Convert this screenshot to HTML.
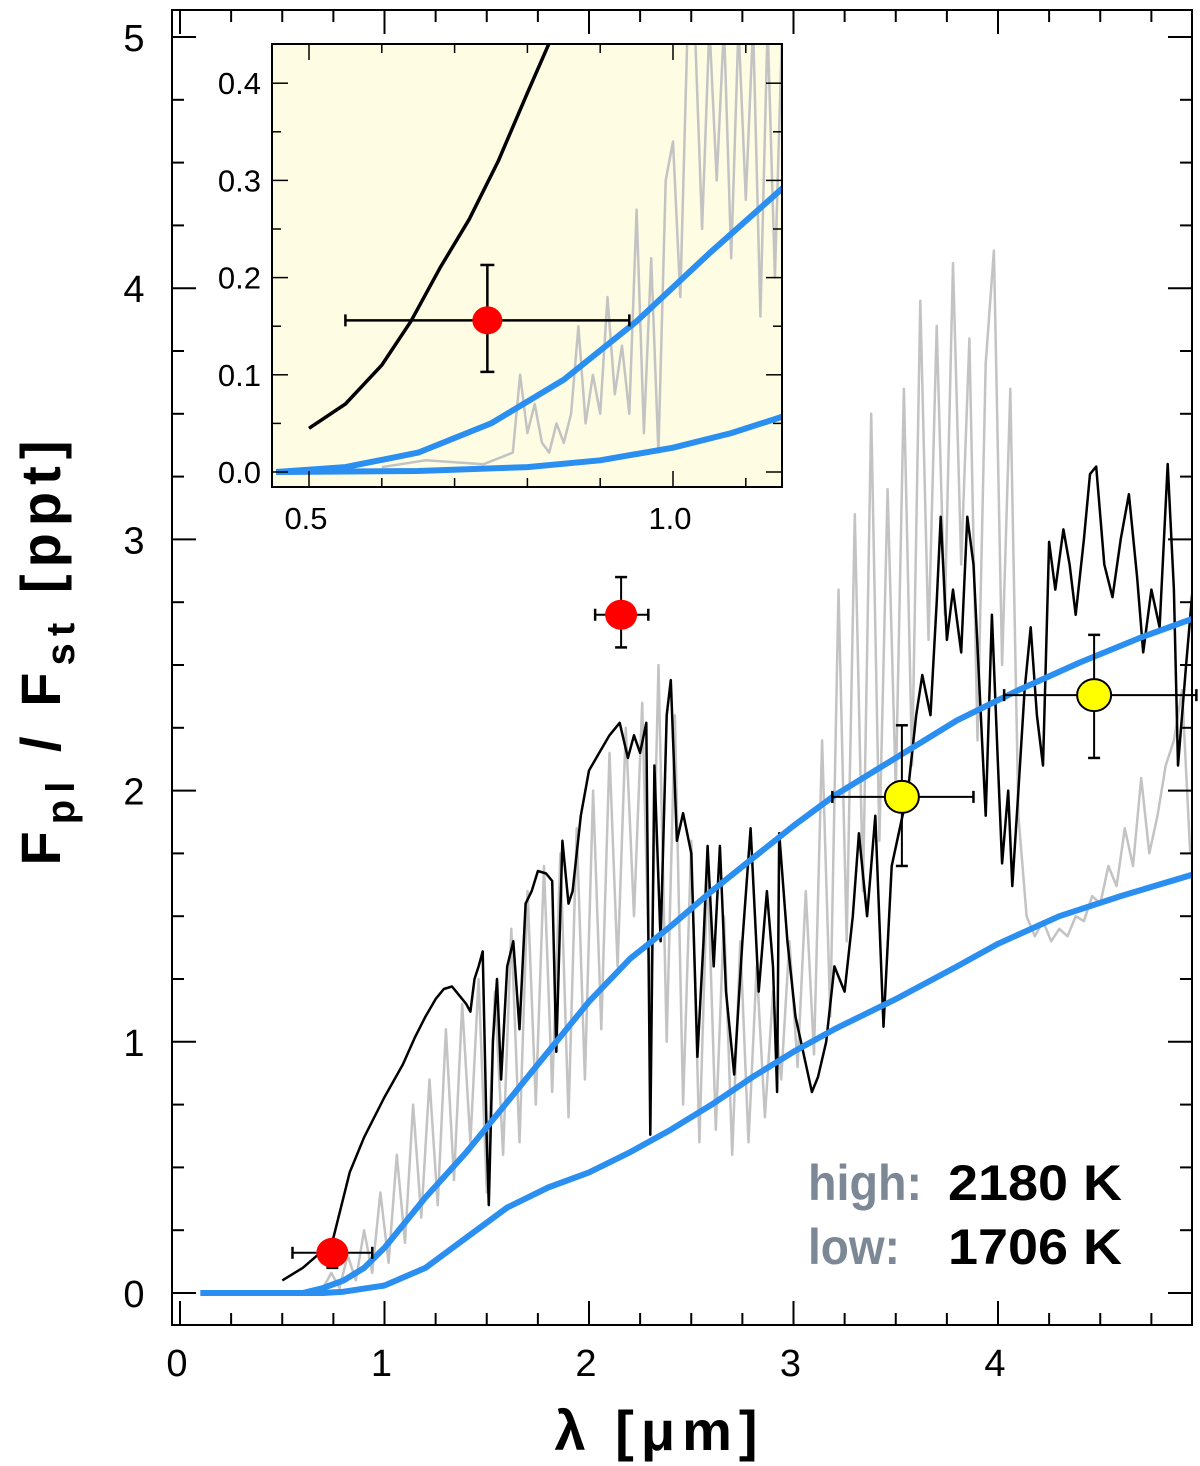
<!DOCTYPE html>
<html><head><meta charset="utf-8"><style>
html,body{margin:0;padding:0;background:#fff;}
svg{display:block;font-family:"Liberation Sans",Arial,sans-serif;}
</style></head><body>
<svg id="chart" width="1200" height="1466" viewBox="0 0 1200 1466">
<defs>
<clipPath id="mainClip"><rect x="172" y="10" width="1020" height="1315"/></clipPath>
<clipPath id="insetClip"><rect x="272" y="44" width="510" height="443"/></clipPath>
</defs>
<g id="main"></g>
<g id="inset"></g>
<text x="60" y="653" transform="rotate(-90 60 653)" text-anchor="middle" font-size="56" font-weight="bold" textLength="425" lengthAdjust="spacing">F<tspan font-size="40" dy="14">pl</tspan><tspan dy="-14"> / F</tspan><tspan font-size="40" dy="14">st</tspan><tspan dy="-14"> [ppt]</tspan></text>
<text x="656" y="1450" text-anchor="middle" font-size="56" font-weight="bold" textLength="203" lengthAdjust="spacing">λ [μm]</text>
<g>
<text x="808" y="1200" font-size="50" font-weight="bold" fill="#7d8896" textLength="114" lengthAdjust="spacingAndGlyphs">high:</text>
<text x="948" y="1200" font-size="50" font-weight="bold" fill="#000" textLength="174" lengthAdjust="spacingAndGlyphs">2180 K</text>
<text x="808" y="1264" font-size="50" font-weight="bold" fill="#7d8896" textLength="92" lengthAdjust="spacingAndGlyphs">low:</text>
<text x="948" y="1264" font-size="50" font-weight="bold" fill="#000" textLength="174" lengthAdjust="spacingAndGlyphs">1706 K</text>
</g>
</svg>
<script>
// ---- main chart data ----
const mainXTicks = [0,1,2,3,4];
const mainYTicks = [0,1,2,3,4,5];
const highX = [0.1,0.6,0.7,0.8,0.9,1.0,1.2,1.4,1.6,1.8,2.0,2.2,2.4,2.6,2.8,3.0,3.2,3.5,3.8,4.1,4.4,4.7,4.97];
const highY = [0,0,0.02,0.05,0.1,0.18,0.38,0.56,0.76,0.96,1.16,1.33,1.46,1.60,1.73,1.86,1.98,2.13,2.28,2.40,2.51,2.61,2.69];
const lowX = [0.1,0.7,0.8,1.0,1.2,1.4,1.6,1.8,2.0,2.2,2.4,2.6,2.8,3.0,3.2,3.5,3.8,4.0,4.3,4.6,4.97];
const lowY = [0,0,0.005,0.03,0.10,0.22,0.34,0.42,0.48,0.56,0.65,0.75,0.86,0.96,1.05,1.17,1.30,1.39,1.50,1.58,1.67];
const grayX = [0.70,0.74,0.78,0.82,0.86,0.90,0.94,0.98,1.02,1.06,1.10,1.14,1.18,1.22,1.26,1.30,1.34,1.38,1.42,1.46,1.50,1.54,1.58,1.62,1.66,1.70,1.74,1.78,1.82,1.86,1.90,1.94,1.98,2.02,2.06,2.10,2.14,2.18,2.22,2.26,2.30,2.34,2.38,2.42,2.46,2.50,2.54,2.58,2.62,2.66,2.70,2.74,2.78,2.82,2.86,2.90,2.94,2.98,3.02,3.06,3.10,3.14,3.18,3.22,3.26,3.30,3.34,3.38,3.42,3.46,3.50,3.54,3.58,3.62,3.66,3.70,3.74,3.78,3.82,3.86,3.90,3.94,3.98,4.02,4.06,4.10,4.14,4.18,4.22,4.26,4.30,4.34,4.38,4.42,4.46,4.50,4.54,4.58,4.62,4.66,4.70,4.74,4.78,4.82,4.86,4.90,4.94];
const grayY = [0.02,0.08,0.02,0.15,0.05,0.25,0.08,0.40,0.12,0.55,0.20,0.75,0.30,0.85,0.35,1.05,0.45,1.15,0.60,1.25,0.40,1.20,0.55,1.45,0.60,1.60,0.75,1.70,0.80,1.75,0.70,1.85,0.85,2.00,1.05,2.15,1.30,2.25,1.50,2.35,1.10,2.50,1.00,2.30,0.75,1.80,0.60,1.70,0.65,1.50,0.55,1.40,0.60,1.30,0.70,1.20,0.85,1.40,0.90,1.60,0.95,2.20,1.10,2.80,1.40,3.10,1.60,3.50,1.80,3.20,2.00,3.60,2.10,3.95,2.60,3.85,2.70,4.10,2.90,3.80,2.20,3.70,4.15,2.50,3.60,1.90,1.50,1.42,1.48,1.40,1.45,1.42,1.50,1.48,1.58,1.55,1.70,1.62,1.85,1.70,2.05,1.75,1.90,2.10,2.20,2.40,1.75];
const blackX = [0.50,0.60,0.70,0.75,0.83,0.90,1.00,1.09,1.15,1.20,1.25,1.29,1.33,1.37,1.40,1.42,1.44,1.46,1.48,1.50,1.51,1.53,1.55,1.57,1.60,1.63,1.66,1.69,1.72,1.75,1.79,1.82,1.84,1.87,1.90,1.92,1.96,2.00,2.05,2.10,2.15,2.19,2.22,2.25,2.28,2.30,2.32,2.35,2.38,2.40,2.43,2.46,2.50,2.53,2.56,2.58,2.61,2.64,2.67,2.71,2.75,2.79,2.83,2.87,2.90,2.92,2.93,2.97,3.01,3.05,3.09,3.12,3.16,3.20,3.25,3.29,3.32,3.36,3.40,3.44,3.48,3.52,3.56,3.60,3.63,3.67,3.70,3.72,3.75,3.78,3.82,3.85,3.88,3.91,3.94,3.97,4.00,4.02,4.05,4.07,4.10,4.13,4.16,4.19,4.22,4.25,4.28,4.32,4.35,4.38,4.42,4.45,4.48,4.52,4.56,4.60,4.64,4.68,4.71,4.75,4.79,4.83,4.86,4.88,4.92,4.96];
const blackY = [0.05,0.10,0.17,0.22,0.48,0.62,0.78,0.91,1.02,1.10,1.17,1.21,1.22,1.18,1.15,1.12,1.25,1.30,1.36,0.60,0.35,1.00,1.25,0.85,1.30,1.40,1.05,1.55,1.60,1.68,1.67,1.64,0.96,1.80,1.55,1.60,1.90,2.08,2.15,2.22,2.27,2.13,2.22,2.15,2.27,0.63,2.10,1.40,2.30,2.44,1.80,1.91,1.75,0.94,1.40,1.78,1.30,1.78,1.20,0.87,1.40,1.85,1.20,1.60,1.30,0.80,1.83,1.40,1.10,0.95,0.80,0.86,1.00,1.30,1.20,1.50,1.83,1.50,1.90,1.06,1.70,1.85,2.00,2.30,2.46,2.30,2.75,3.09,2.60,2.80,2.55,3.09,2.90,2.40,1.90,2.70,2.10,1.71,2.00,1.62,2.00,2.40,2.65,2.30,2.10,2.99,2.80,3.04,2.90,2.70,3.00,3.26,3.29,2.90,2.77,3.00,3.18,2.85,2.55,2.80,2.65,3.30,2.80,2.10,2.50,2.88];
const ptX = [0.745,2.157,3.53,4.47];
const ptY = [0.16,2.70,1.975,2.38];
const ptXLo = [0.55,2.03,3.19,4.03];
const ptXHi = [0.94,2.29,3.88,4.97];
const ptYLo = [0.10,2.57,1.70,2.13];
const ptYHi = [0.21,2.85,2.26,2.62];
const ptColor = ['#ff0000','#ff0000','#ffff00','#ffff00'];
// ---- inset data ----
const inXTicks = [0.5,1.0];
const inXTickLabels = ['0.5','1.0'];
const inYTicks = [0,0.1,0.2,0.3,0.4];
const inYTickLabels = ['0.0','0.1','0.2','0.3','0.4'];
const inHighX = [0.455,0.55,0.65,0.75,0.85,0.95,1.05,1.155];
const inHighY = [0,0.005,0.02,0.05,0.095,0.155,0.225,0.295];
const inLowX = [0.455,0.65,0.8,0.9,1.0,1.08,1.155];
const inLowY = [0,0.001,0.005,0.012,0.025,0.04,0.058];
const inBlackX = [0.50,0.55,0.60,0.64,0.68,0.72,0.76,0.80,0.835];
const inBlackY = [0.045,0.07,0.11,0.155,0.21,0.26,0.32,0.39,0.45];
const inGrayX = [0.60,0.66,0.70,0.74,0.78,0.79,0.80,0.81,0.82,0.83,0.84,0.85,0.86,0.87,0.88,0.89,0.90,0.91,0.92,0.93,0.94,0.95,0.96,0.97,0.98,0.99,1.00,1.01,1.02,1.03,1.04,1.05,1.06,1.07,1.08,1.09,1.10,1.11,1.12,1.13,1.14,1.15];
const inGrayY = [0.005,0.012,0.01,0.008,0.02,0.10,0.04,0.07,0.03,0.02,0.05,0.03,0.06,0.15,0.05,0.10,0.06,0.18,0.08,0.13,0.06,0.27,0.04,0.22,0.02,0.30,0.34,0.18,0.46,0.46,0.25,0.46,0.30,0.46,0.22,0.46,0.28,0.46,0.16,0.46,0.20,0.46];
const inPtX = 0.745, inPtY = 0.156, inPtXLo = 0.55, inPtXHi = 0.94, inPtYLo = 0.103, inPtYHi = 0.213;

const NS = 'http://www.w3.org/2000/svg';
function mk(parent, tag, attrs){ const e = document.createElementNS(NS, tag); for (const k in attrs) e.setAttribute(k, attrs[k]); parent.appendChild(e); return e; }
const mx = v => 180 + v*204.5;
const my = v => 1293 - v*251.2;
const ix = v => 309 + (v-0.5)*728;
const iy = v => 472 - v*972;

const main = document.getElementById('main');
const mg = mk(main,'g',{'clip-path':'url(#mainClip)'});
function line(parent, xs, ys, fx, fy, color, w, name){
  let d = '';
  xs.forEach((x,i)=>{ d += (i?'L':'M') + fx(x).toFixed(1) + ' ' + fy(ys[i]).toFixed(1); });
  const p = mk(parent,'path',{d:d,fill:'none',stroke:color,'stroke-width':w,'stroke-linejoin':'round'});
  
  
  return p;
}
line(mg, grayX, grayY, mx, my, '#c3c3c3', 2.5, 'model-spectrum-gray');
line(mg, blackX, blackY, mx, my, '#000', 2.5, 'model-spectrum-black');
line(mg, highX, highY, mx, my, '#2a8ff0', 6, 'blackbody-high');
line(mg, lowX, lowY, mx, my, '#2a8ff0', 6, 'blackbody-low');
ptX.forEach((x,i)=>{
  const g = mk(main,'g',{});
  
  
  mk(g,'line',{x1:mx(ptXLo[i]),x2:mx(ptXHi[i]),y1:my(ptY[i]),y2:my(ptY[i]),stroke:'#000','stroke-width':2});
  mk(g,'line',{x1:mx(x),x2:mx(x),y1:my(ptYLo[i]),y2:my(ptYHi[i]),stroke:'#000','stroke-width':2});
  [ptXLo[i],ptXHi[i]].forEach(v=>mk(g,'line',{x1:mx(v),x2:mx(v),y1:my(ptY[i])-6,y2:my(ptY[i])+6,stroke:'#000','stroke-width':2.5}));
  [ptYLo[i],ptYHi[i]].forEach(v=>mk(g,'line',{x1:mx(x)-6,x2:mx(x)+6,y1:my(v),y2:my(v),stroke:'#000','stroke-width':2.5}));
  const r = ptColor[i]==='#ff0000'?15:16;
  mk(g,'ellipse',{cx:mx(x),cy:my(ptY[i]),rx:r+1,ry:r,fill:ptColor[i],stroke:ptColor[i]==='#ff0000'?'none':'#000','stroke-width':2});
});
const mf = mk(main,'rect',{x:172,y:10,width:1020,height:1315,fill:'none',stroke:'#000','stroke-width':2});


const mt = mk(main,'g',{stroke:'#000','stroke-width':2});
for (let v=0; v<=4.95; v+=0.25){
  const L = Math.abs(v-Math.round(v))<1e-6 ? 24 : 12;
  const X = mx(v);
  mk(mt,'line',{x1:X,x2:X,y1:1325,y2:1325-L});
  mk(mt,'line',{x1:X,x2:X,y1:10,y2:10+L});
}
for (let v=0; v<=5.1; v+=0.25){
  const L = Math.abs(v-Math.round(v))<1e-6 ? 24 : 12;
  const Y = my(v);
  if (Y<10) continue;
  mk(mt,'line',{x1:172,x2:172+L,y1:Y,y2:Y});
  mk(mt,'line',{x1:1192,x2:1192-L,y1:Y,y2:Y});
}
mainXTicks.forEach(v=>{
  const t = mk(main,'text',{x:mx(v)-3,y:1376,'text-anchor':'middle','font-size':38});
  t.textContent = v;
  
  
});
mainYTicks.forEach(v=>{
  const t = mk(main,'text',{x:134,y:my(v)+14,'text-anchor':'middle','font-size':38});
  t.textContent = v;
  
  
});

const inset = document.getElementById('inset');
const bg = mk(inset,'rect',{x:272,y:44,width:510,height:443,fill:'#fefde4'});


const ig = mk(inset,'g',{'clip-path':'url(#insetClip)'});
line(ig, inGrayX, inGrayY, ix, iy, '#c3c3c3', 2.5, 'inset-model-spectrum-gray');
line(ig, inBlackX, inBlackY, ix, iy, '#000', 3.5, 'inset-model-spectrum-black');
line(ig, inHighX, inHighY, ix, iy, '#2a8ff0', 6, 'inset-blackbody-high');
line(ig, inLowX, inLowY, ix, iy, '#2a8ff0', 6, 'inset-blackbody-low');
const ip = mk(inset,'g',{});


mk(ip,'line',{x1:ix(inPtXLo),x2:ix(inPtXHi),y1:iy(inPtY),y2:iy(inPtY),stroke:'#000','stroke-width':2.5});
mk(ip,'line',{x1:ix(inPtX),x2:ix(inPtX),y1:iy(inPtYLo),y2:iy(inPtYHi),stroke:'#000','stroke-width':2.5});
[inPtXLo,inPtXHi].forEach(v=>mk(ip,'line',{x1:ix(v),x2:ix(v),y1:iy(inPtY)-6,y2:iy(inPtY)+6,stroke:'#000','stroke-width':2.5}));
[inPtYLo,inPtYHi].forEach(v=>mk(ip,'line',{x1:ix(inPtX)-7,x2:ix(inPtX)+7,y1:iy(v),y2:iy(v),stroke:'#000','stroke-width':2.5}));
mk(ip,'ellipse',{cx:ix(inPtX),cy:iy(inPtY),rx:15,ry:14,fill:'#ff0000'});
const inf = mk(inset,'rect',{x:272,y:44,width:510,height:443,fill:'none',stroke:'#000','stroke-width':2});


const it = mk(inset,'g',{stroke:'#000','stroke-width':1.5});
for (let k=5; k<=11; k++){
  const v = k/10, X = ix(v), L = (k===5||k===10)?16:9;
  mk(it,'line',{x1:X,x2:X,y1:487,y2:487-L});
  mk(it,'line',{x1:X,x2:X,y1:44,y2:44+L});
}
for (let k=0; k<=8; k++){
  const v = k*0.05, Y = iy(v), L = (k%2===0)?16:9;
  mk(it,'line',{x1:272,x2:272+L,y1:Y,y2:Y});
  mk(it,'line',{x1:782,x2:782-L,y1:Y,y2:Y});
}
inXTicks.forEach((v,i)=>{
  const t = mk(inset,'text',{x:ix(v)-3,y:529,'text-anchor':'middle','font-size':31});
  t.textContent = inXTickLabels[i];
  
  
});
inYTicks.forEach((v,i)=>{
  const t = mk(inset,'text',{x:261,y:iy(v)+11,'text-anchor':'end','font-size':31});
  t.textContent = inYTickLabels[i];
  
  
});
</script>
</body></html>
